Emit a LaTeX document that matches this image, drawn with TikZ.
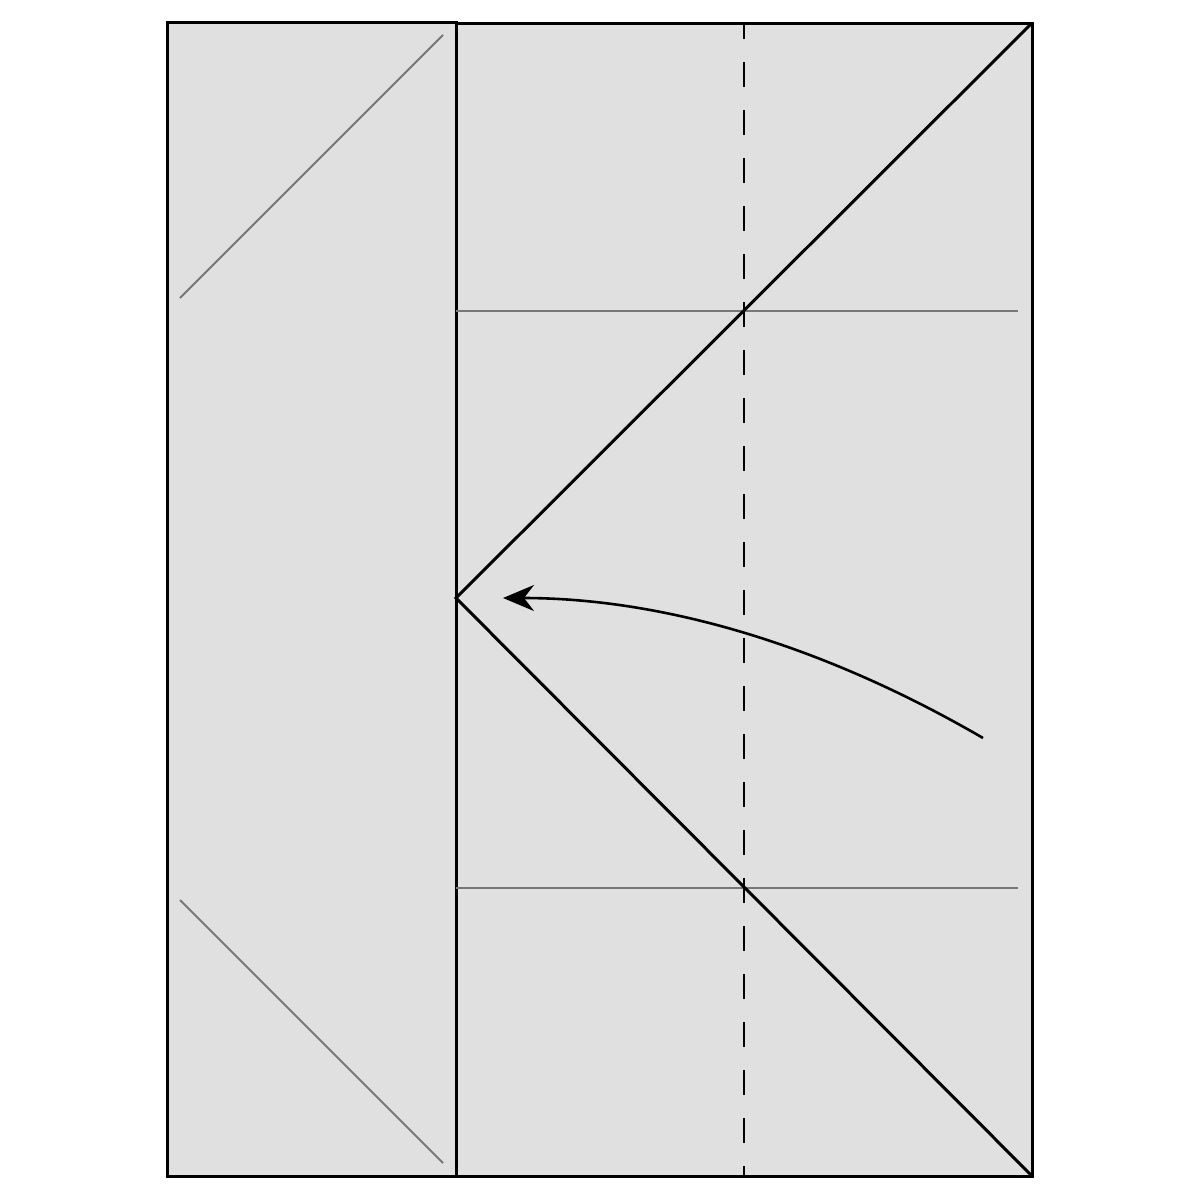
\documentclass[tikz,border=0pt]{standalone}
\usetikzlibrary{arrows.meta}
\definecolor{paper}{HTML}{E0E0E0}
\definecolor{crease}{HTML}{777777}
\tikzset{
  edge/.style={line width=1.5pt, black, line join=miter},
  greycrease/.style={line width=0.9pt, crease},
  valley/.style={line width=1pt, black, dash pattern=on 12.5pt off 11.5pt, dash phase=4.5pt},
  foldarrow/.style={line width=1.3pt, -{Stealth[length=15.5pt,width=13pt,inset=5pt]}},
}
\begin{document}
\begin{tikzpicture}[x=0.5pt,y=-0.5pt]
\useasboundingbox (0,0) rectangle (1200,1200);
% coordinates
\coordinate (LTL) at (167,22);
\coordinate (LBR) at (456,1176);
\coordinate (RTL) at (456,23);
\coordinate (RTR) at (1032,23);
\coordinate (RBR) at (1032,1176);
\coordinate (RBL) at (456,1176);
\coordinate (V) at (456,598);
% left panel
\draw[edge, fill=paper] (LTL) rectangle (LBR);
\draw[greycrease] (180,298) -- (443,35);
\draw[greycrease] (180,900) -- (443,1163);
% right panel
\draw[edge, fill=paper] (RTL) rectangle (RBR);
\draw[greycrease] (456,311) -- (1018,311);
\draw[greycrease] (456,888) -- (1018,888);
\draw[valley] (744,23) -- (744,1176);
\draw[edge] (RTR) -- (V) -- (RBR);
% arrow
\coordinate (AS) at (983,738);
\coordinate (AE) at (503,598);
\draw[foldarrow] (AS) .. controls (823,645) and (663,598) .. (AE);
\end{tikzpicture}
\end{document}
